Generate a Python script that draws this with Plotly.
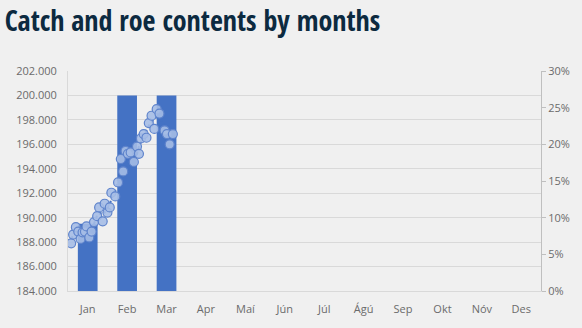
import plotly.graph_objects as go
import pandas as pd

months = ["Jan", "Feb", "Mar", "Apr", "Maí", "Jún", "Júl", "Ágú", "Sep", "Okt", "Nóv", "Des"]
catch_tonnes = [189500, 200000, 200000]

# roe content samples: position along the month axis (0 = Jan) and share (%)
roe_pos = [-0.42, -0.37, -0.30, -0.24, -0.18, -0.13, -0.07, -0.03, 0.04, 0.10,
           0.16, 0.24, 0.29, 0.38, 0.43, 0.50, 0.56, 0.60, 0.70, 0.77,
           0.84, 0.90, 0.96, 1.02, 1.09, 1.17, 1.25, 1.30, 1.35, 1.42,
           1.49, 1.55, 1.62, 1.69, 1.75, 1.82, 1.95, 2.01, 2.08, 2.16]
roe_pct = [6.5, 7.7, 8.7, 8.1, 7.1, 8.0, 8.1, 8.8, 7.3, 8.1,
           9.4, 10.2, 11.4, 9.5, 11.9, 10.7, 11.4, 13.4, 12.9, 14.8,
           18.0, 16.3, 19.1, 18.7, 18.9, 17.6, 19.7, 18.7, 20.8, 21.4,
           20.9, 22.9, 23.9, 22.1, 24.8, 24.2, 21.9, 21.4, 20.0, 21.4]

roe_frac = [v / 100 for v in roe_pct]
roe_trend = pd.Series(roe_frac).rolling(3, center=True, min_periods=1).mean().tolist()

BLUE = "#4472C4"
BG = "#f0f0f0"
GRID = "#d9d9d9"
TICK = "#6b6b6b"

fig = go.Figure()
fig.add_trace(go.Bar(
    x=list(range(len(catch_tonnes))), y=catch_tonnes,
    width=0.5, marker=dict(color=BLUE, line=dict(width=0)),
    yaxis="y", showlegend=False, hoverinfo="skip",
))
fig.add_trace(go.Scatter(
    x=roe_pos, y=roe_trend, mode="lines",
    line=dict(color=BLUE, width=2, dash="dot"),
    yaxis="y2", showlegend=False, hoverinfo="skip",
))
fig.add_trace(go.Scatter(
    x=roe_pos, y=roe_frac, mode="markers",
    marker=dict(size=9, color="rgba(165,188,230,0.9)", line=dict(color="#5f84cc", width=1.2)),
    yaxis="y2", showlegend=False, hoverinfo="skip",
))

fig.update_layout(
    width=582, height=328,
    margin=dict(l=68, r=39, t=71, b=36),
    paper_bgcolor=BG, plot_bgcolor=BG,
    separators=",.",
    font=dict(family="Open Sans, Arial", color=TICK, size=11),
    title=dict(
        text="<b>Catch and roe contents by months</b>",
        x=0.008, xanchor="left", y=0.935, yanchor="middle",
        font=dict(family="Noto Sans Condensed, Open Sans Condensed, Roboto Condensed, Roboto", size=28, color="#0c2a40"),
    ),
    xaxis=dict(
        range=[-0.5, 11.5], tickmode="array",
        tickvals=list(range(12)), ticktext=months,
        showgrid=False, zeroline=False,
        showline=True, linecolor=GRID, linewidth=1,
        ticks="outside", ticklen=8, tickcolor="rgba(0,0,0,0)",
        tickfont=dict(size=11, color=TICK),
    ),
    yaxis=dict(
        range=[184000, 202000], dtick=2000, tickformat=",d",
        showgrid=True, gridcolor=GRID, gridwidth=1,
        zeroline=False, showline=True, linecolor=GRID, linewidth=1,
        ticks="outside", ticklen=8, tickcolor="rgba(0,0,0,0)",
        tickfont=dict(size=11, color=TICK),
    ),
    yaxis2=dict(
        overlaying="y", side="right",
        range=[0, 0.30], dtick=0.05, tickformat=".0%",
        showgrid=False, zeroline=False,
        showline=True, linecolor="#bfbfbf", linewidth=1,
        ticks="outside", ticklen=4, tickcolor="#bfbfbf",
        tickfont=dict(size=11, color=TICK),
    ),
)

fig.write_html("out.html")
